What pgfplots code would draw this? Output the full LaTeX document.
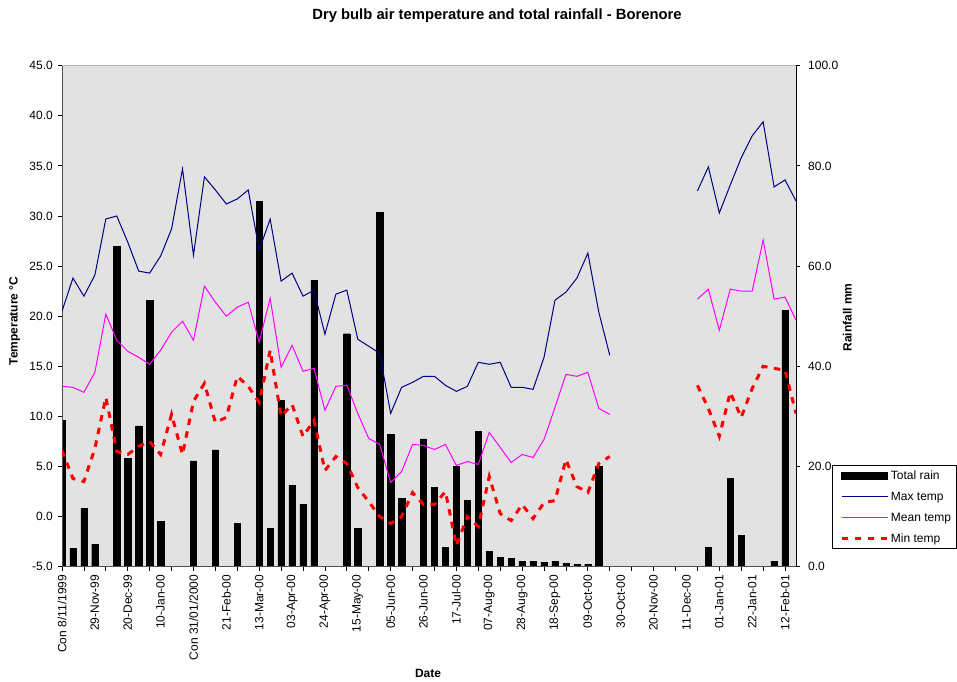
\documentclass[border=0pt]{standalone}
\usepackage{pgfplots}
\pgfplotsset{compat=1.18}
\usepackage{pgfplotstable}
\usepackage{fontspec}
\setmainfont{Liberation Sans}

\definecolor{plotbg}{HTML}{E2E2E2}
\definecolor{maxcol}{HTML}{000080}
\definecolor{meancol}{HTML}{FF00FF}
\definecolor{mincol}{HTML}{FF0000}
\definecolor{framegray}{HTML}{B4B4B4}
\definecolor{axisgray}{HTML}{505050}

\newcommand{\ticksize}{\fontsize{12}{14}\selectfont}

% weekly rainfall totals (mm); week 0 = 8 Nov 1999
\pgfplotstableread{
wk rain
0 29.2
1 3.6
2 11.6
3 4.5
5 64.0
6 21.6
7 28.1
8 53.1
9 9.1
12 21.1
14 23.3
16 8.6
18 72.9
19 7.6
20 33.2
21 16.2
22 12.5
23 57.1
26 46.5
27 7.6
29 70.7
30 26.4
31 13.6
33 25.5
34 15.8
35 3.8
36 20.0
37 13.3
38 27.0
39 3.1
40 1.8
41 1.6
42 1.1
43 1.1
44 0.9
45 1.1
46 0.7
47 0.5
48 0.5
49 20.1
59 3.8
61 17.6
62 6.2
65 1.1
66 51.2
}\raindata

% weekly dry bulb temperatures (deg C); no readings in weeks 51-57
\pgfplotstableread{
wk tmax tmean tmin
0 20.5 13.0 6.6
1 23.8 12.9 3.8
2 22.0 12.4 3.5
3 24.1 14.4 6.8
4 29.7 20.2 11.9
5 30.0 17.6 6.5
6 27.4 16.5 6.2
7 24.5 15.9 7.0
8 24.3 15.2 7.5
9 26.0 16.6 6.2
10 28.7 18.4 10.2
11 34.7 19.5 6.2
12 26.1 17.6 11.5
13 33.9 23.0 13.3
14 32.6 21.4 9.4
15 31.2 20.0 9.9
16 31.7 20.9 14.0
17 32.6 21.4 13.0
18 26.6 17.4 11.4
19 29.7 21.8 16.6
20 23.5 14.9 10.0
21 24.3 17.1 11.2
22 22.0 14.5 8.0
23 22.6 14.8 9.6
24 18.2 10.6 4.6
25 22.2 13.0 6.0
26 22.6 13.1 5.3
27 17.7 10.3 2.9
28 17.0 7.8 1.5
29 16.3 7.2 0.0
30 10.3 3.4 -0.7
31 12.9 4.5 0.0
32 13.4 7.2 2.4
33 14.0 7.1 1.2
34 14.0 6.7 1.2
35 13.1 7.2 2.5
36 12.5 5.1 -2.9
37 13.0 5.5 0.0
38 15.4 5.2 -1.0
39 15.2 8.4 4.0
40 15.4 6.9 0.3
41 12.9 5.4 -0.4
42 12.9 6.2 1.2
43 12.7 5.9 -0.2
44 15.9 7.7 1.4
45 21.6 10.9 1.6
46 22.4 14.2 5.7
47 23.8 14.0 3.0
48 26.3 14.4 2.4
49 20.4 10.8 5.3
50 16.1 10.2 6.0
51 nan nan nan
52 nan nan nan
53 nan nan nan
54 nan nan nan
55 nan nan nan
56 nan nan nan
57 nan nan nan
58 32.5 21.7 13.1
59 34.9 22.7 10.8
60 30.3 18.6 8.0
61 33.1 22.7 12.4
62 35.8 22.5 9.9
63 38.0 22.5 12.8
64 39.4 27.6 15.0
65 32.9 21.7 14.8
66 33.6 21.9 14.6
67 31.5 19.6 10.3
}\tempdata

\pgfplotsset{
  chartframe/.style={
    at={(62pt,114.3pt)}, anchor=south west,
    scale only axis, width=734pt, height=501pt,
    xmin=0, xmax=67,
    tick align=outside,
    major tick length=4pt,
    tick style={black, line width=0.8pt},
    /pgf/number format/fixed,
    /pgf/number format/fixed zerofill,
    /pgf/number format/precision=1,
    /pgf/number format/assume math mode=true,
  },
}

\begin{document}
\begin{tikzpicture}[x=1pt,y=1pt]
\useasboundingbox (0,0) rectangle (957,681);

% rainfall: bars on the right-hand axis, drawn first so the lines sit on top
\begin{axis}[
  chartframe,
  ymin=0, ymax=100,
  axis x line*=bottom, axis y line*=right,
  axis background/.style={fill=plotbg},
  x axis line style={draw=axisgray, line width=1pt},
  y axis line style={draw=black, line width=1pt},
  xtick={0,2,...,66}, xticklabel={\relax},
  ytick={0,20,...,100},
  yticklabel style={font=\ticksize, inner sep=0pt, anchor=west, xshift=8pt},
]
\addplot[ybar, bar width=6.3pt, fill=black, draw=black] table[x=wk, y=rain] {\raindata};
\draw[framegray, line width=1pt] (rel axis cs:0,1) -- (rel axis cs:1,1);
\end{axis}

% temperatures on the left-hand axis
\begin{axis}[
  chartframe,
  ymin=-5, ymax=45,
  axis x line*=bottom, axis y line*=left,
  x axis line style={draw=axisgray, line width=1pt},
  y axis line style={draw=axisgray, line width=1pt},
  xtick={0,3,...,66},
  xticklabels={Con 8/11/1999,29-Nov-99,20-Dec-99,10-Jan-00,Con 31/01/2000,21-Feb-00,13-Mar-00,03-Apr-00,24-Apr-00,15-May-00,05-Jun-00,26-Jun-00,17-Jul-00,07-Aug-00,28-Aug-00,18-Sep-00,09-Oct-00,30-Oct-00,20-Nov-00,11-Dec-00,01-Jan-01,22-Jan-01,12-Feb-01},
  xtick style={draw=none},
  xticklabel style={yshift=-4pt, rotate=90, anchor=east, font=\ticksize, inner sep=0pt},
  ytick={-5,0,...,45},
  yticklabel style={font=\ticksize, inner sep=0pt, anchor=east, xshift=-5pt},
  unbounded coords=jump,
  legend style={
    at={(axis description cs:1.049,0.203)}, anchor=north west,
    draw=black, line width=0.9pt, fill=white,
    font=\ticksize,
    inner xsep=4pt, inner ysep=3pt,
    row sep=6.5pt,
    nodes={inner xsep=1.5pt, inner ysep=1.5pt},
  },
  legend cell align=left,
  legend image code/.code={\path (0pt,0pt); \draw[#1] (4pt,0pt) -- (50pt,0pt);},
]
\addlegendimage{legend image code/.code={\path (0pt,0pt); \fill[black] (4pt,-3.5pt) rectangle (50pt,3.5pt);}}
\addlegendentry{\strut Total rain}
\addplot[maxcol, line width=1pt] table[x=wk, y=tmax] {\tempdata};
\addlegendentry{\strut Max temp}
\addplot[meancol, line width=1pt] table[x=wk, y=tmean] {\tempdata};
\addlegendentry{\strut Mean temp}
\addplot[mincol, line width=3pt, dash pattern=on 6.5pt off 6.5pt] table[x=wk, y=tmin] {\tempdata};
\addlegendentry{\strut Min temp}
\end{axis}

\node[anchor=base, font=\bfseries\fontsize{14.8}{17}\selectfont] at (497,661)
  {Dry bulb air temperature and total rainfall - Borenore};
\node[anchor=base, rotate=90, font=\bfseries\fontsize{12}{14}\selectfont] at (17.5,360)
  {Temperature °C};
\node[anchor=base, rotate=90, font=\bfseries\fontsize{12}{14}\selectfont] at (851.7,363.5)
  {Rainfall mm};
\node[anchor=base, font=\bfseries\fontsize{12}{14}\selectfont] at (428,3.7) {Date};
\end{tikzpicture}
\end{document}
